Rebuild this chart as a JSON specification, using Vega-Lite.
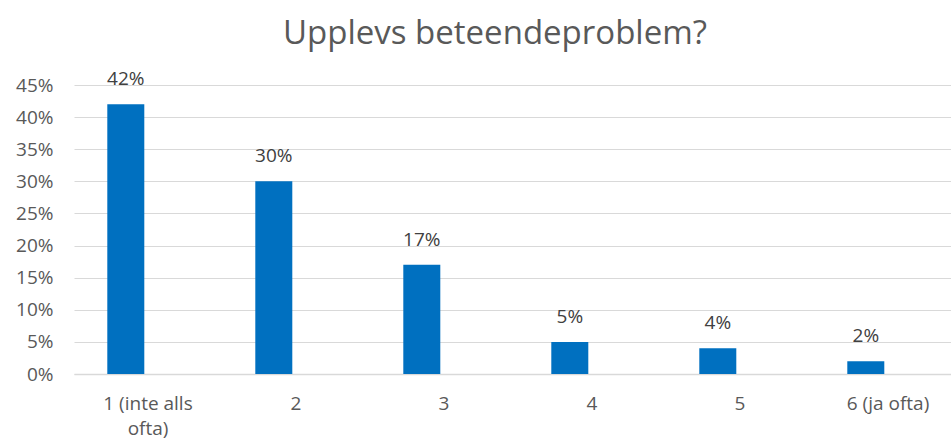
{
  "$schema": "https://vega.github.io/schema/vega-lite/v6.json",
  "width": 888,
  "height": 289,
  "autosize": {"type": "none"},
  "padding": {"left": 74, "top": 85, "right": 0, "bottom": 67},
  "background": "white",
  "title": {
    "text": "Upplevs beteendeproblem?",
    "font": "Open Sans",
    "fontSize": 33,
    "fontWeight": "normal",
    "color": "#595959",
    "anchor": "middle",
    "dx": -23,
    "offset": 19
  },
  "data": {
    "values": [
      {"cat": "1 (inte alls ofta)", "series": "a", "value": 0.42},
      {"cat": "2", "series": "a", "value": 0.30},
      {"cat": "3", "series": "a", "value": 0.17},
      {"cat": "4", "series": "a", "value": 0.05},
      {"cat": "5", "series": "a", "value": 0.04},
      {"cat": "6 (ja ofta)", "series": "a", "value": 0.02}
    ]
  },
  "config": {
    "view": {"stroke": null},
    "font": "Open Sans"
  },
  "encoding": {
    "x": {
      "field": "cat",
      "type": "nominal",
      "sort": null,
      "scale": {"paddingInner": 0, "paddingOuter": 0},
      "axis": {
        "title": null,
        "labelAngle": 0,
        "labelFont": "Open Sans",
        "labelFontSize": 19,
        "labelColor": "#595959",
        "labelPadding": 20,
        "labelLineHeight": 25,
        "labelExpr": "datum.value == '1 (inte alls ofta)' ? ['1 (inte alls', 'ofta)'] : datum.value",
        "ticks": false,
        "domain": true,
        "domainColor": "#D9D9D9",
        "domainWidth": 1.5,
        "grid": false
      }
    },
    "xOffset": {
      "field": "series",
      "type": "nominal",
      "scale": {"domain": ["a", "b"], "paddingInner": 0, "paddingOuter": 1.176, "align": 0.45}
    },
    "y": {
      "field": "value",
      "type": "quantitative",
      "scale": {"domain": [0, 0.45], "nice": false},
      "axis": {
        "title": null,
        "format": ".0%",
        "values": [0, 0.05, 0.1, 0.15, 0.2, 0.25, 0.3, 0.35, 0.4, 0.45],
        "labelFont": "Open Sans",
        "labelFontSize": 19,
        "labelColor": "#595959",
        "labelPadding": 21,
        "ticks": false,
        "domain": false,
        "grid": true,
        "gridColor": "#D9D9D9",
        "gridWidth": 1.2
      }
    }
  },
  "layer": [
    {"mark": {"type": "bar", "color": "#0070C0"}},
    {
      "mark": {"type": "text", "baseline": "alphabetic", "dy": -19, "fontSize": 19, "color": "#404040", "font": "Open Sans"},
      "encoding": {"text": {"field": "value", "type": "quantitative", "format": ".0%"}}
    }
  ]
}
